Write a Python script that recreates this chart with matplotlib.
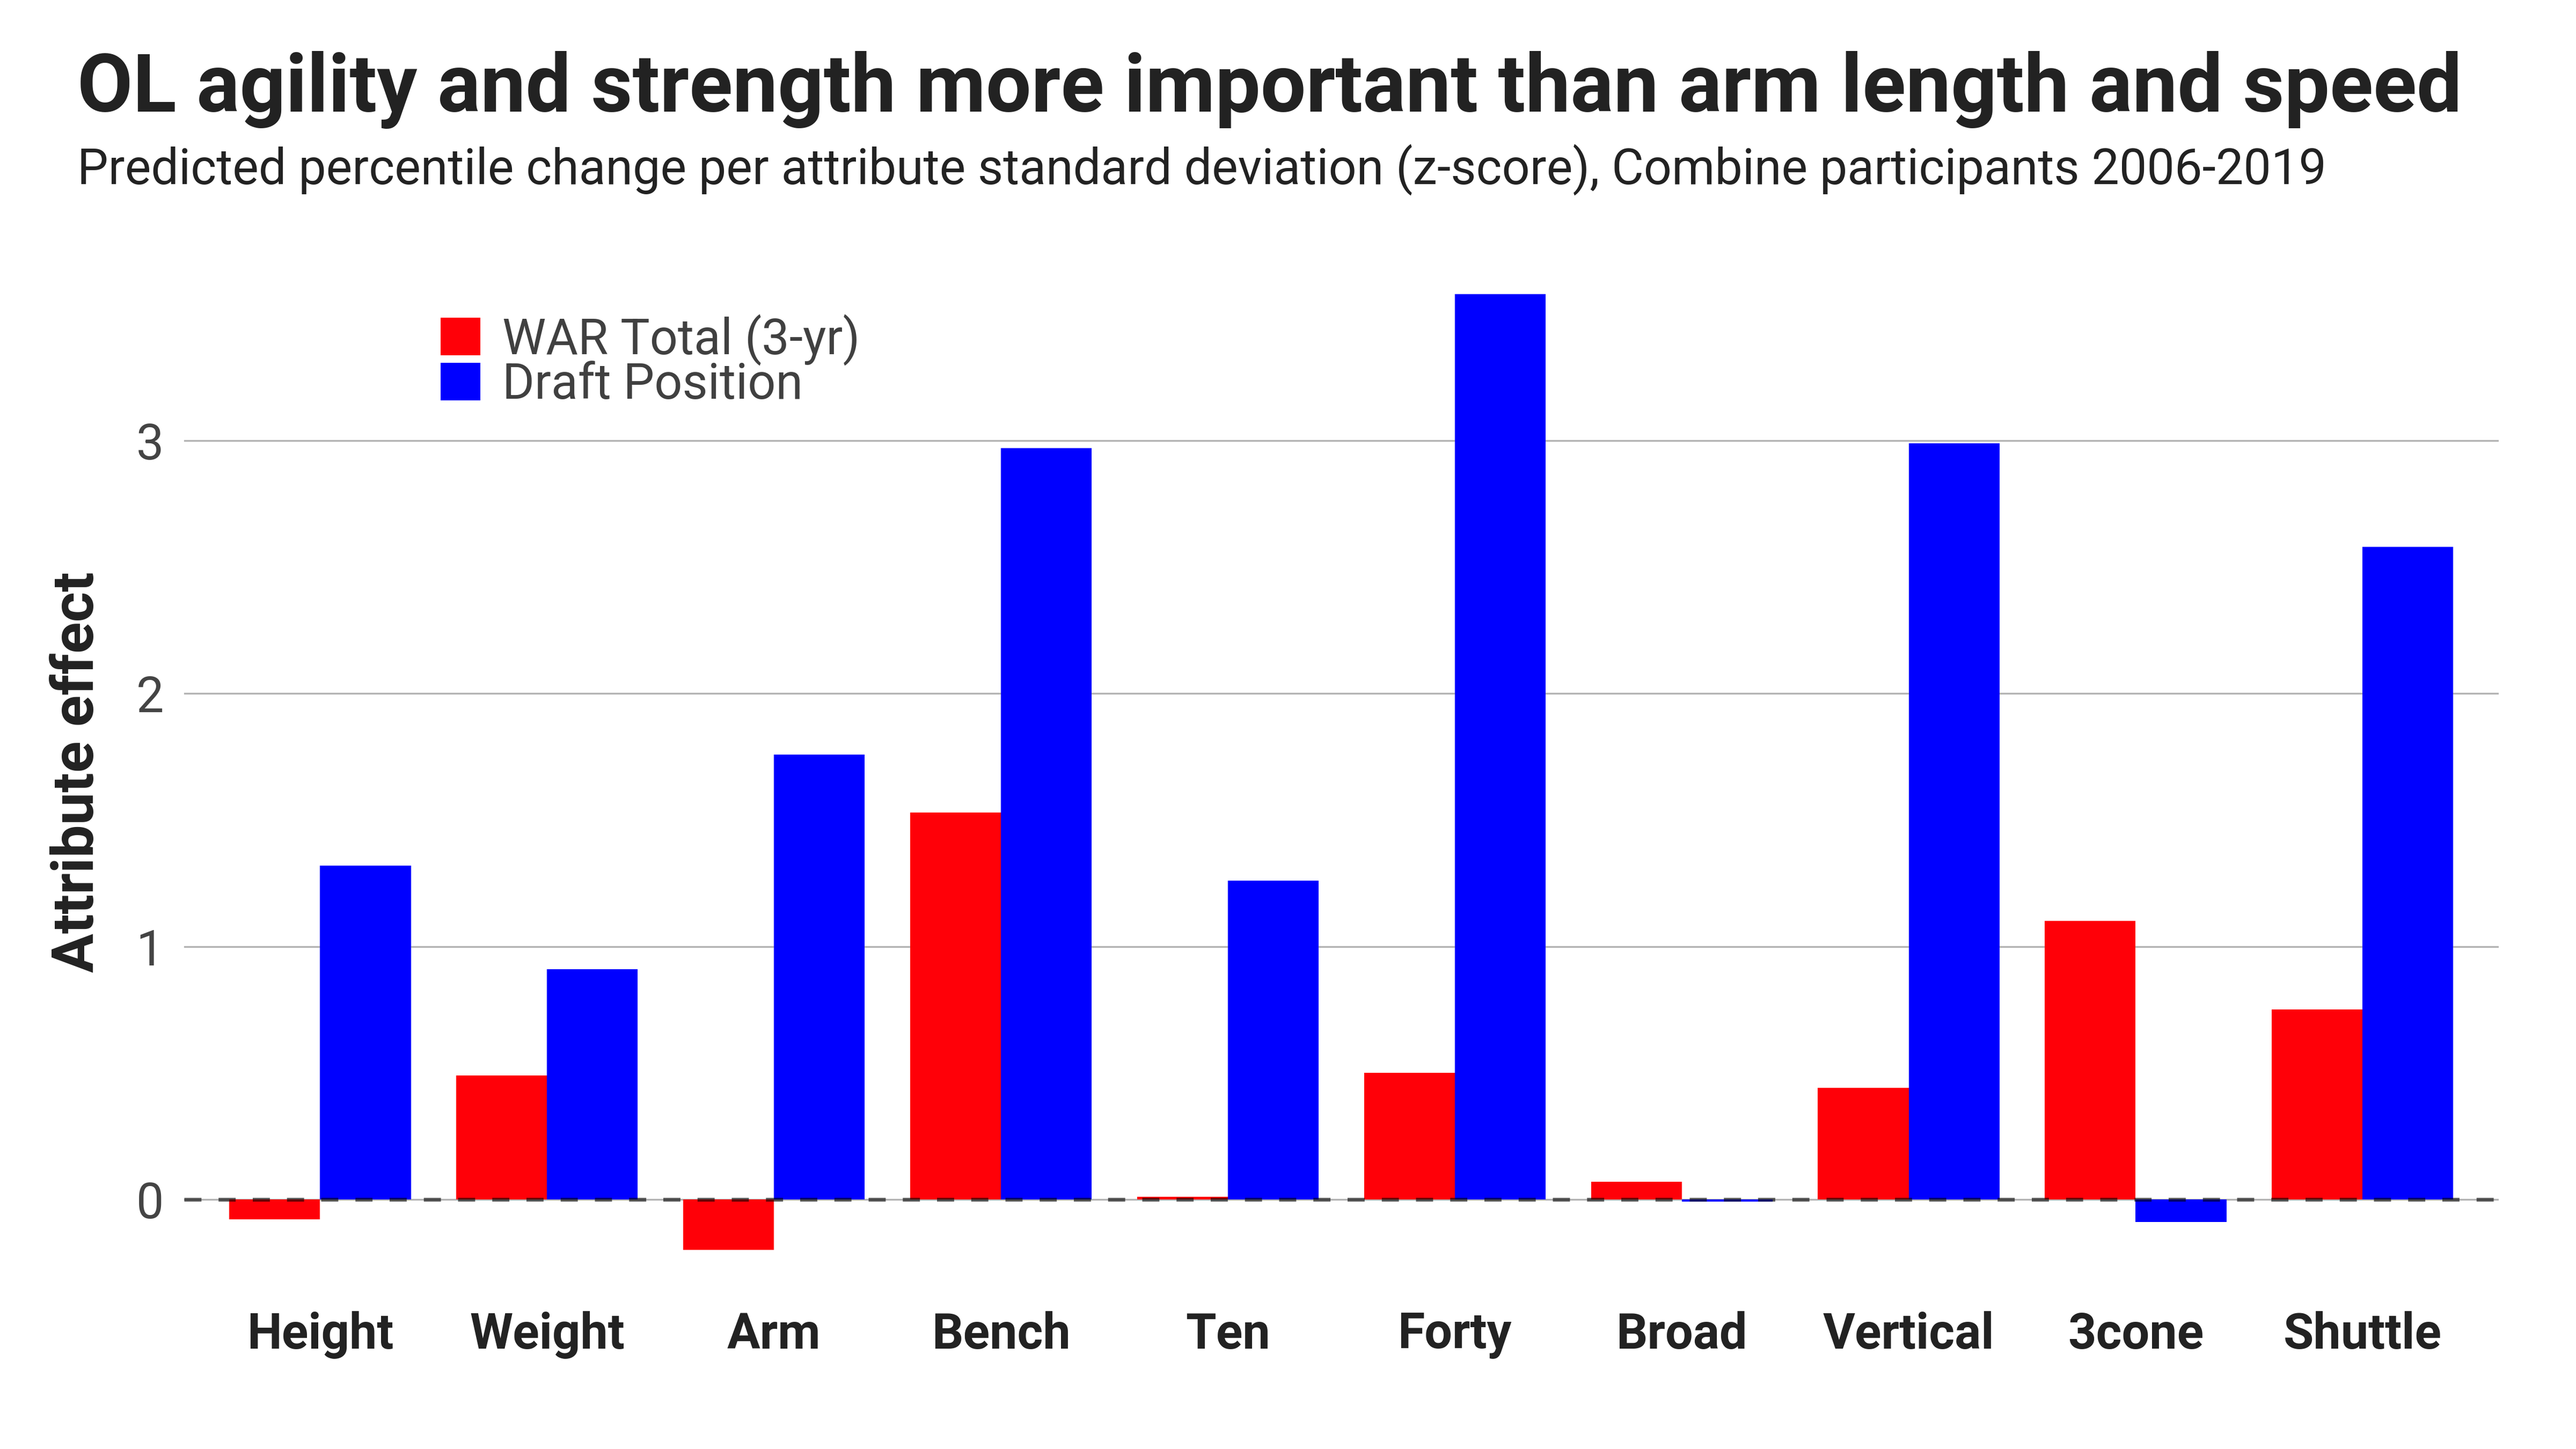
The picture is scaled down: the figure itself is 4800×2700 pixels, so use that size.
import matplotlib
matplotlib.use("Agg")
import matplotlib.pyplot as plt
import numpy as np

attributes = ["Height", "Weight", "Arm", "Bench", "Ten", "Forty", "Broad", "Vertical", "3cone", "Shuttle"]
war_total = [-0.08, 0.49, -0.20, 1.53, 0.01, 0.50, 0.07, 0.44, 1.10, 0.75]
draft_position = [1.32, 0.91, 1.76, 2.97, 1.26, 3.58, -0.01, 2.99, -0.09, 2.58]
y_ticks = [0, 1, 2, 3]

RED = "#ff0008"
BLUE = "#0000ff"

plt.rcParams["font.family"] = ["Roboto", "DejaVu Sans"]

fig = plt.figure(figsize=(16, 9), dpi=300)
ax = fig.add_axes([0.0714, 0.120, 0.8986, 0.677])

x = np.arange(len(attributes))
w = 0.4
ax.bar(x - w / 2, war_total, w, color=RED, label="WAR Total (3-yr)", zorder=2)
ax.bar(x + w / 2, draft_position, w, color=BLUE, label="Draft Position", zorder=2)

# grid + dashed zero line
for t in y_ticks:
    ax.axhline(t, color="#b3b3b3", lw=0.8, zorder=1)
ax.axhline(0, color="black", alpha=0.6, lw=1.7, dashes=(4.5, 4.5), zorder=3)

ax.set_xlim(-0.6, len(attributes) - 0.4)
ax.set_ylim(-0.3, 3.58)
ax.set_yticks(y_ticks)
ax.set_yticklabels([str(t) for t in y_ticks], fontsize=22, color="#444444")
ax.set_xticks(x)
ax.set_xticklabels(attributes, fontsize=22, fontweight="bold", color="#222222")
ax.tick_params(axis="both", length=0)
ax.tick_params(axis="x", pad=16)
ax.tick_params(axis="y", pad=9)
for s in ax.spines.values():
    s.set_visible(False)

ax.set_ylabel("Attribute effect", fontsize=26, fontweight="bold", color="#222222")
ax.yaxis.set_label_coords(-0.034, 0.5126)

leg = ax.legend(loc="upper left", bbox_to_anchor=(0.111, 0.98), frameon=False,
                fontsize=22, handlelength=0.8, handleheight=0.8, borderpad=0,
                handletextpad=0.45, labelspacing=-0.08, borderaxespad=0)
for t in leg.get_texts():
    t.set_color("#404040")

fig.text(0.030, 0.923, "OL agility and strength more important than arm length and speed",
         fontsize=36, fontweight="bold", color="#222222", ha="left", va="baseline")
fig.text(0.030, 0.873, "Predicted percentile change per attribute standard deviation (z-score), Combine participants 2006-2019",
         fontsize=22, color="#222222", ha="left", va="baseline")

fig.savefig("out.png", dpi=300)
